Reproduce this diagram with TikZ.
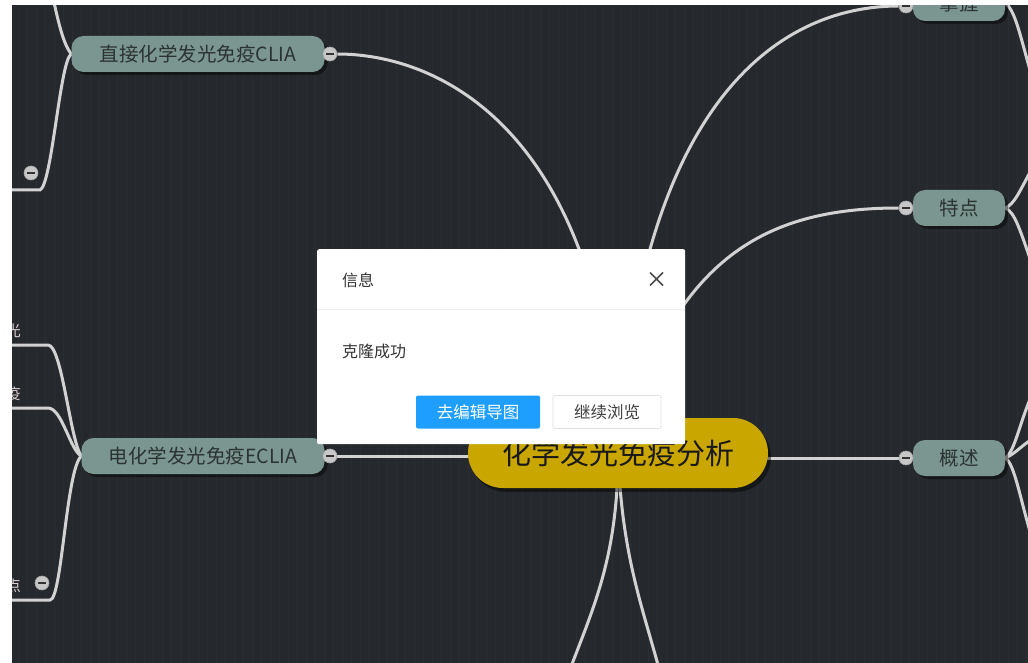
\documentclass[tikz,border=0pt]{standalone}
\usepackage{fontspec}
\setmainfont{Noto Sans CJK SC}
\usetikzlibrary{shadows}
\definecolor{bgdark}{HTML}{25292D}
\definecolor{gridc}{HTML}{2A2E32}
\definecolor{edgec}{HTML}{D2D2D2}
\definecolor{tealnode}{HTML}{7B9690}
\definecolor{tealtext}{HTML}{2B3232}
\definecolor{gold}{HTML}{C9A600}
\definecolor{btnblue}{HTML}{1E9FFF}
\definecolor{leaftext}{HTML}{D9CCCC}
\pgfdeclarelayer{bgl}
\pgfdeclarelayer{edgel}
\pgfdeclarelayer{topl}
\pgfsetlayers{bgl,edgel,main,topl}
\begin{document}
\begin{tikzpicture}[x=1pt,y=-1pt,
  topic/.style={draw=none, fill=tealnode, rounded corners=12pt, minimum height=36pt,
    text=tealtext, font=\fontsize{19.5}{22}\selectfont, inner sep=0pt,
    drop shadow={shadow xshift=3pt, shadow yshift=-3pt, opacity=0.45, fill=black}},
  root/.style={fill=gold, rounded corners=35pt, minimum width=300pt, minimum height=70pt,
    text=black!90, font=\fontsize{29}{32}\selectfont, inner sep=0pt,
    drop shadow={shadow xshift=3pt, shadow yshift=-4pt, opacity=0.45, fill=black}},
  fold/.style={circle, fill=edgec!95!black, draw=gray!70, line width=0.6pt, minimum size=14pt, inner sep=0pt},
  minusline/.style={draw=gray!40!black, line width=1.4pt},
  conn/.style={draw=edgec, line width=3pt},
  leaf/.style={text=leaftext, font=\fontsize{15}{18}\selectfont, inner sep=0pt},
  dlgtext/.style={text=black!80, font=\fontsize{16}{19}\selectfont, inner sep=0pt},
  btn/.style={minimum width=124pt, minimum height=33pt, rounded corners=2pt, inner sep=0pt,
    font=\fontsize{16.5}{19}\selectfont}
]
\useasboundingbox (0,0) rectangle (1028,663);
\begin{pgfonlayer}{bgl}
  \fill[white] (0,0) rectangle (1028,663);
  \fill[bgdark] (12,5) rectangle (1028,663);
  \draw[gridc, line width=0.4pt, step=9] (12,5) grid (1028,663);
\end{pgfonlayer}

% main nodes
\node[root] (ctr) at (618,453) {化学发光免疫分析};
\node[topic, minimum width=253pt] (clia) at (198,54) {直接化学发光免疫CLIA};
\node[topic, minimum width=243pt] (eclia) at (203,456) {电化学发光免疫ECLIA};
\node[topic, minimum width=92pt] (tedian) at (959,208) {特点};
\node[topic, minimum width=92pt] (gaishu) at (959,458) {概述};
\node[topic, minimum width=92pt] (zhangwo) at (959,3) {掌握};

% fold buttons
\node[fold] (cc1) at (330,54) {};
\node[fold] (cc2) at (330,456) {};
\node[fold] (cc3) at (906,208) {};
\node[fold] (cc4) at (906,458) {};
\node[fold] (cc5) at (906,6) {};
\node[fold] (cc6) at (31,173) {};
\node[fold] (cc7) at (42,583) {};
\foreach \c in {cc1,cc2,cc3,cc4,cc5,cc6,cc7}{
  \draw[minusline] ([xshift=-4pt]\c.center) -- ([xshift=4pt]\c.center);
}

% partial leaf labels at the left edge
\node[leaf, anchor=east] (lf1) at (21,331) {光};
\node[leaf, anchor=east] (lf2) at (21,394) {疫};
\node[leaf, anchor=east] (lf3) at (21,586) {点};

% free ends
\coordinate (t1) at (53,-2);
\coordinate (u1a) at (40,190); \coordinate (u1) at (0,190);
\coordinate (u2a) at (48,345); \coordinate (u2) at (0,345);
\coordinate (u3a) at (48,408); \coordinate (u3) at (0,408);
\coordinate (u4a) at (50,600); \coordinate (u4) at (0,600);
\coordinate (b1) at (566,680);
\coordinate (b2) at (662,680);
\coordinate (r1) at (1034,165);
\coordinate (r2) at (1034,270);
\coordinate (r3) at (1034,390);
\coordinate (r4) at (1034,438);
\coordinate (r5) at (1034,545);
\coordinate (r6) at (1030,70);

\begin{pgfonlayer}{edgel}
  \draw[conn] (ctr.center) .. controls (600,130) and (440,54) .. (cc1);
  \draw[conn] (ctr.center) .. controls (640,100) and (780,6) .. (cc5);
  \draw[conn] (ctr.center) .. controls (672,262) and (760,208) .. (cc3);
  \draw[conn] (ctr.center |- cc4) -- (cc4);
  \draw[conn] (ctr.center |- cc2) -- (cc2);
  \draw[conn] (ctr.center) .. controls (618,560) and (592,610) .. (b1);
  \draw[conn] (ctr.center) .. controls (622,560) and (644,610) .. (b2);
  \draw[conn] (cc1) -- (clia.east);
  \draw[conn] (cc2) -- (eclia.east);
  \draw[conn] (cc3) -- (tedian.west);
  \draw[conn] (cc4) -- (gaishu.west);
  \draw[conn] (cc5) -- (zhangwo.west);
  % left children
  \draw[conn] (clia.west) .. controls (63,44) and (58,20) .. (t1);
  \draw[conn] (clia.west) .. controls (60,60) and (52,185) .. (u1a) -- (u1);
  \draw[conn] (eclia.west) .. controls (70,440) and (62,345) .. (u2a) -- (u2);
  \draw[conn] (eclia.west) .. controls (70,450) and (62,408) .. (u3a) -- (u3);
  \draw[conn] (eclia.west) .. controls (66,470) and (62,600) .. (u4a) -- (u4);
  % right children
  \draw[conn] (tedian.east) .. controls (1015,204) and (1020,190) .. (r1);
  \draw[conn] (tedian.east) .. controls (1015,212) and (1020,230) .. (r2);
  \draw[conn] (gaishu.east) .. controls (1015,452) and (1020,420) .. (r3);
  \draw[conn] (gaishu.east) .. controls (1015,454) and (1022,445) .. (r4);
  \draw[conn] (gaishu.east) .. controls (1015,464) and (1020,500) .. (r5);
  \draw[conn] (zhangwo.east) .. controls (1015,10) and (1020,35) .. (r6);
\end{pgfonlayer}

\begin{pgfonlayer}{topl}
  % white margins
  \fill[white] (0,0) rectangle (12,663);
  \fill[white] (0,0) rectangle (1028,5);
  % dialog
  \node[fill=white, rounded corners=2pt, minimum width=368pt, minimum height=195pt,
        inner sep=0pt, anchor=north west] (dlg) at (317,249) {};
  \draw[black!7, line width=1pt] (dlg.west |- 0,309) -- (dlg.east |- 0,309);
  \node[dlgtext, anchor=west] (title) at (342,280) {信息};
  \coordinate (xc) at (656.5,279);
  \draw[black!70, line width=1.5pt] ([shift={(-6.5,-6.5)}]xc) -- ([shift={(6.5,6.5)}]xc)
        ([shift={(6.5,-6.5)}]xc) -- ([shift={(-6.5,6.5)}]xc);
  \node[dlgtext, anchor=west] (msg) at (342,351) {克隆成功};
  \node[btn, fill=btnblue, text=white] (b1btn) at (478,412) {去编辑导图};
  \node[btn, fill=white, draw=black!13, line width=0.8pt, minimum width=108pt, text=black!75] (b2btn) at (607,412) {继续浏览};
\end{pgfonlayer}
\end{tikzpicture}
\end{document}
